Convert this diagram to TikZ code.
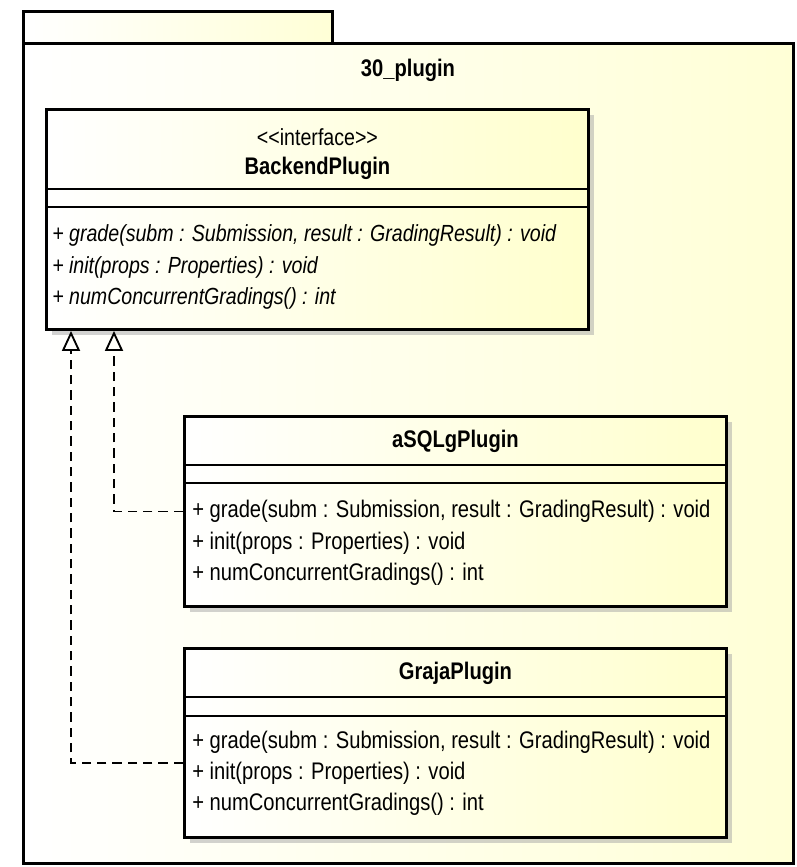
\documentclass[tikz,border=0pt]{standalone}
\usepackage{fontspec}
\setmainfont{Liberation Sans}[FakeStretch=0.84]
\usetikzlibrary{arrows.meta, positioning, calc, shadows}

\definecolor{pkgyellow}{RGB}{255,255,214}
\definecolor{clsyellow}{RGB}{255,255,205}

\begin{document}
\begin{tikzpicture}[x=0.75pt, y=-0.75pt,
    % Package, class and text styles.
    pkg/.style={
      rectangle, draw=black, line width=2.2pt, anchor=north west,
      left color=white, right color=pkgyellow, inner sep=0pt
    },
    classbox/.style={
      rectangle, draw=black, line width=2.2pt, anchor=north west,
      left color=white, right color=clsyellow, inner sep=0pt,
      minimum width=406.5pt,
      drop shadow={shadow xshift=4.5pt, shadow yshift=-4.5pt,
                   fill=black!35, opacity=0.5}
    },
    sep/.style={draw=black, line width=1pt},
    stereo/.style={font=\fontsize{17.5}{20}\selectfont, inner sep=0pt},
    clsname/.style={font=\fontsize{18}{20}\selectfont\bfseries, inner sep=0pt},
    op/.style={anchor=west, font=\fontsize{18}{20}\selectfont, inner sep=0pt},
    absop/.style={op, font=\fontsize{17.5}{20}\selectfont\itshape},
    realize/.style={line width=1.4pt, dash pattern=on 7pt off 4.5pt,
      -{Triangle[open, width=13.5pt, length=15pt]}}
]
\useasboundingbox (0,0) rectangle (796,867);

% Package 30_plugin (tab and body)
\node [pkg, minimum width=231.75pt, minimum height=24pt] (pkgtab) at (22,10) {};
\node [pkg, minimum width=577.5pt, minimum height=615pt] (pkgbody) at (22,42) {};
\node [font=\fontsize{18}{20}\selectfont\bfseries, inner sep=0pt] (pkgname) at (408,70) {30\_plugin};

% Interface BackendPlugin
\node [classbox, minimum height=165pt] (backend) at (45,108) {};
\draw [sep] ([yshift=-60.75pt]backend.north west) -- ([yshift=-60.75pt]backend.north east);
\draw [sep] ([yshift=-74.25pt]backend.north west) -- ([yshift=-74.25pt]backend.north east);
\node [stereo] (backendstereo) at ($(backend.north)+(0,29)$) {<{}<interface>{}>};
\node [clsname] (backendname) at ($(backend.north)+(0,60)$) {BackendPlugin};
\node [absop] (backendop1) at ($(backend.north west)+(7,127)$) {+ grade(subm : Submission, result : GradingResult) : void};
\node [absop] (backendop2) at ($(backend.north west)+(7,159)$) {+ init(props : Properties) : void};
\node [absop] (backendop3) at ($(backend.north west)+(7,190)$) {+ numConcurrentGradings() : int};

% Class aSQLgPlugin
\node [classbox, minimum height=142.5pt] (asqlg) at (183,415) {};
\draw [sep] ([yshift=-37.5pt]asqlg.north west) -- ([yshift=-37.5pt]asqlg.north east);
\draw [sep] ([yshift=-51pt]asqlg.north west) -- ([yshift=-51pt]asqlg.north east);
\node [clsname] (asqlgname) at ($(asqlg.north)+(0,26)$) {aSQLgPlugin};
\node [op] (asqlgop1) at ($(asqlg.north west)+(9,96)$) {+ grade(subm : Submission, result : GradingResult) : void};
\node [op] (asqlgop2) at ($(asqlg.north west)+(9,128)$) {+ init(props : Properties) : void};
\node [op] (asqlgop3) at ($(asqlg.north west)+(9,159)$) {+ numConcurrentGradings() : int};

% Class GrajaPlugin
\node [classbox, minimum height=141.75pt] (graja) at (183,647) {};
\draw [sep] ([yshift=-37.5pt]graja.north west) -- ([yshift=-37.5pt]graja.north east);
\draw [sep] ([yshift=-51.75pt]graja.north west) -- ([yshift=-51.75pt]graja.north east);
\node [clsname] (grajaname) at ($(graja.north)+(0,26)$) {GrajaPlugin};
\node [op] (grajaop1) at ($(graja.north west)+(9,95)$) {+ grade(subm : Submission, result : GradingResult) : void};
\node [op] (grajaop2) at ($(graja.north west)+(9,126)$) {+ init(props : Properties) : void};
\node [op] (grajaop3) at ($(graja.north west)+(9,157)$) {+ numConcurrentGradings() : int};

% Realizations of the interface
\draw [realize] (asqlg.west) -| ([xshift=51.75pt]backend.south west);
\draw [realize] ([yshift=-15pt]graja.west) -| ([xshift=19.5pt]backend.south west);

\end{tikzpicture}
\end{document}
